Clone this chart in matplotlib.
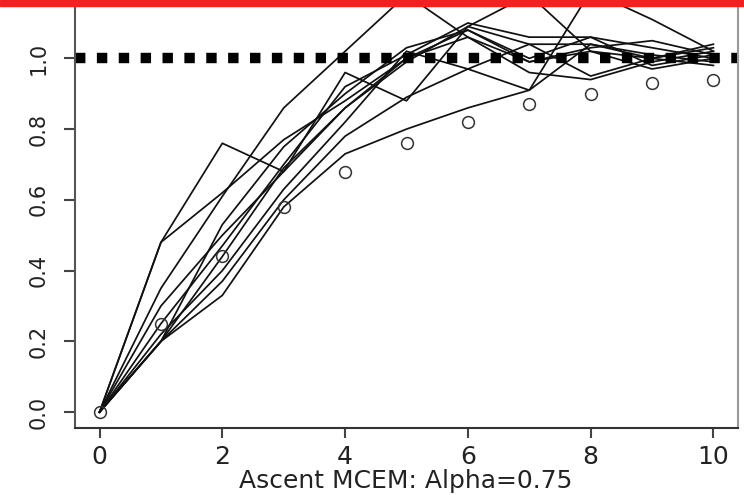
import numpy as np
import matplotlib
matplotlib.use("Agg")
import matplotlib.pyplot as plt
from matplotlib.patches import Rectangle

# iteration index and the runs of the ascent MCEM
iters = np.arange(11)
runs = [
    [0, 0.48, 0.76, 0.68, 0.86, 1.00, 1.08, 1.00, 1.06, 1.03, 1.00],
    [0, 0.48, 0.62, 0.77, 0.88, 1.00, 1.06, 0.99, 1.03, 1.05, 1.01],
    [0, 0.35, 0.61, 0.86, 1.02, 1.18, 1.06, 0.96, 0.94, 0.99, 1.02],
    [0, 0.30, 0.50, 0.68, 0.96, 0.88, 1.09, 1.18, 1.02, 0.97, 1.00],
    [0, 0.20, 0.37, 0.60, 0.78, 0.89, 0.97, 1.04, 1.04, 1.00, 1.03],
    [0, 0.22, 0.40, 0.63, 0.82, 1.02, 0.97, 0.91, 1.04, 1.01, 0.99],
    [0, 0.20, 0.33, 0.58, 0.73, 0.80, 0.86, 0.91, 1.19, 1.11, 1.02],
    [0, 0.20, 0.44, 0.69, 0.86, 0.99, 1.09, 1.04, 0.95, 1.00, 1.04],
    [0, 0.25, 0.47, 0.70, 0.92, 1.01, 1.10, 1.06, 1.06, 0.98, 1.01],
    [0, 0.20, 0.53, 0.75, 0.90, 1.03, 1.08, 0.99, 1.02, 1.00, 0.98],
]
# expected path (circles)
expected = [0, 0.25, 0.44, 0.58, 0.68, 0.76, 0.82, 0.87, 0.90, 0.93, 0.94]
target = 1.0

xticks = [0, 2, 4, 6, 8, 10]
yticks = [0.0, 0.2, 0.4, 0.6, 0.8, 1.0]
xlabel = "Ascent MCEM: Alpha=0.75"

W, H, DPI = 744, 495, 100
fig = plt.figure(figsize=(W / DPI, H / DPI), dpi=DPI)
ax = fig.add_axes([75 / W, 67 / H, 663 / W, 428 / H])

for r in runs:
    ax.plot(iters, r, color="#111111", lw=1.25)
ax.plot(iters, expected, "o", ms=8.5, mfc="none", mec="#333333", mew=1.1)

ax.axhline(target, color="black", lw=7.5, dashes=(1.0, 1.1),
           dash_capstyle="butt")

ax.set_xlim(-0.4, 10.4)
ax.set_ylim(-0.045, 1.165)
ax.set_xticks(xticks)
ax.set_yticks(yticks)
ax.set_xticklabels([str(t) for t in xticks], fontsize=18,
                   family="DejaVu Sans", color="#222222")
ax.set_yticklabels(["%.1f" % t for t in yticks], fontsize=15,
                   family="DejaVu Sans", color="#222222",
                   rotation=90, va="center")
ax.tick_params(axis="x", length=7, width=1.5, pad=5, color="#444444")
ax.tick_params(axis="y", length=8, width=1.5, pad=11, color="#444444")

# axis title sits just under the tick labels
fig.text(406 / W, 7 / H, xlabel, fontsize=18, family="DejaVu Sans",
         color="#222222", ha="center", va="baseline")

ax.spines["left"].set_color("#555555")
ax.spines["bottom"].set_color("#333333")
ax.spines["right"].set_color("#999999")
for s in ax.spines.values():
    s.set_linewidth(1.5)

# red band along the top edge
fig.patches.append(Rectangle((0, 1 - 6 / H), 1, 6 / H,
                             transform=fig.transFigure,
                             color="#f22020", zorder=10))

fig.savefig("out.png", dpi=DPI)
